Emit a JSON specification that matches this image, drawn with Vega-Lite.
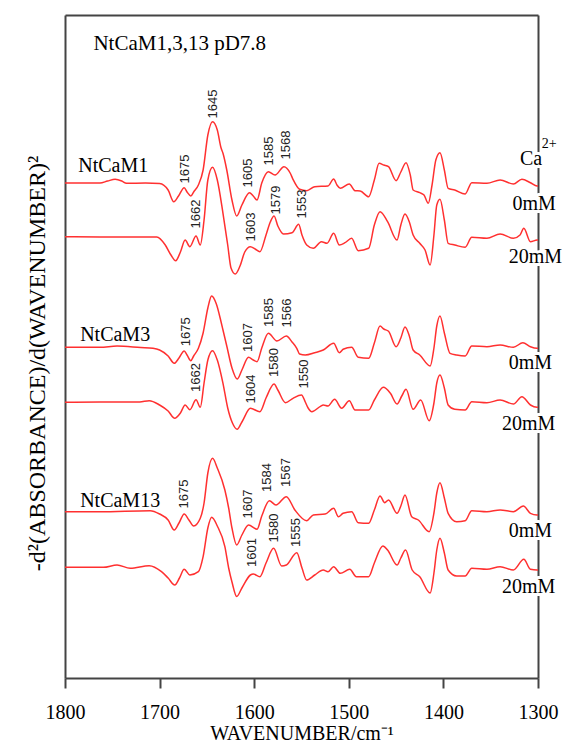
{
  "$schema": "https://vega.github.io/schema/vega-lite/v6.json",
  "width": 473,
  "height": 663,
  "autosize": {"type": "none"},
  "padding": {"left": 65, "top": 15, "right": 25, "bottom": 68},
  "background": "white",
  "config": {
    "view": {"stroke": null},
    "axis": {"grid": false, "domainColor": "#444", "domainWidth": 2, "tickColor": "#444"}
  },
  "resolve": {"axis": {"x": "independent", "y": "independent"}},
  "datasets": {
    "spectra": [
      {"s":"M1-0","wn":1800,"v":495},{"s":"M1-0","wn":1763,"v":495},{"s":"M1-0","wn":1755,"v":497},{"s":"M1-0","wn":1747,"v":498.7},{"s":"M1-0","wn":1740,"v":497},{"s":"M1-0","wn":1735,"v":494.7},{"s":"M1-0","wn":1715,"v":495},{"s":"M1-0","wn":1700,"v":494.5},{"s":"M1-0","wn":1691,"v":488},{"s":"M1-0","wn":1685,"v":476.3},{"s":"M1-0","wn":1680,"v":482},{"s":"M1-0","wn":1674,"v":490.3},{"s":"M1-0","wn":1671,"v":486},{"s":"M1-0","wn":1667,"v":482},{"s":"M1-0","wn":1664,"v":486},{"s":"M1-0","wn":1659,"v":493},{"s":"M1-0","wn":1654,"v":508},{"s":"M1-0","wn":1649,"v":543},{"s":"M1-0","wn":1644,"v":556.3},{"s":"M1-0","wn":1639,"v":548},{"s":"M1-0","wn":1635,"v":530},{"s":"M1-0","wn":1633,"v":524.7},{"s":"M1-0","wn":1629,"v":508},{"s":"M1-0","wn":1623.5,"v":478},{"s":"M1-0","wn":1618.5,"v":462},{"s":"M1-0","wn":1613,"v":473},{"s":"M1-0","wn":1605,"v":485.3},{"s":"M1-0","wn":1601,"v":482},{"s":"M1-0","wn":1597,"v":478},{"s":"M1-0","wn":1592,"v":495},{"s":"M1-0","wn":1585,"v":506.3},{"s":"M1-0","wn":1578,"v":503},{"s":"M1-0","wn":1568.5,"v":511.3},{"s":"M1-0","wn":1562,"v":505},{"s":"M1-0","wn":1559,"v":498.7},{"s":"M1-0","wn":1552,"v":488.7},{"s":"M1-0","wn":1544.5,"v":487.3},{"s":"M1-0","wn":1536,"v":491.3},{"s":"M1-0","wn":1522,"v":492},{"s":"M1-0","wn":1516,"v":499},{"s":"M1-0","wn":1512.5,"v":493},{"s":"M1-0","wn":1509,"v":489.7},{"s":"M1-0","wn":1499.5,"v":494},{"s":"M1-0","wn":1493.4,"v":487.3},{"s":"M1-0","wn":1488,"v":487},{"s":"M1-0","wn":1479,"v":481.3},{"s":"M1-0","wn":1473,"v":498},{"s":"M1-0","wn":1468,"v":514.7},{"s":"M1-0","wn":1463,"v":513},{"s":"M1-0","wn":1458,"v":511.3},{"s":"M1-0","wn":1450,"v":497.3},{"s":"M1-0","wn":1445,"v":506},{"s":"M1-0","wn":1439.5,"v":515.3},{"s":"M1-0","wn":1435,"v":503},{"s":"M1-0","wn":1432,"v":488},{"s":"M1-0","wn":1425,"v":485.3},{"s":"M1-0","wn":1420.5,"v":483},{"s":"M1-0","wn":1416,"v":474.7},{"s":"M1-0","wn":1412,"v":493},{"s":"M1-0","wn":1408,"v":518},{"s":"M1-0","wn":1403.6,"v":525.3},{"s":"M1-0","wn":1399,"v":508},{"s":"M1-0","wn":1395,"v":489.7},{"s":"M1-0","wn":1388,"v":488},{"s":"M1-0","wn":1377,"v":484},{"s":"M1-0","wn":1370,"v":495.3},{"s":"M1-0","wn":1354,"v":494.7},{"s":"M1-0","wn":1340,"v":498},{"s":"M1-0","wn":1326,"v":494},{"s":"M1-0","wn":1317,"v":498.7},{"s":"M1-0","wn":1308,"v":495.3},{"s":"M1-0","wn":1301,"v":492},{"s":"M1-0","wn":1300,"v":492},

      {"s":"M1-20","wn":1800,"v":441.3},{"s":"M1-20","wn":1763,"v":441},{"s":"M1-20","wn":1731,"v":441},{"s":"M1-20","wn":1703,"v":441},{"s":"M1-20","wn":1694,"v":433},{"s":"M1-20","wn":1688,"v":423},{"s":"M1-20","wn":1683,"v":417.3},{"s":"M1-20","wn":1678,"v":426},{"s":"M1-20","wn":1673,"v":438},{"s":"M1-20","wn":1668,"v":431.3},{"s":"M1-20","wn":1661.5,"v":442},{"s":"M1-20","wn":1657,"v":433},{"s":"M1-20","wn":1653,"v":458},{"s":"M1-20","wn":1649,"v":498},{"s":"M1-20","wn":1644,"v":510.7},{"s":"M1-20","wn":1639,"v":498},{"s":"M1-20","wn":1633,"v":464.7},{"s":"M1-20","wn":1628,"v":433},{"s":"M1-20","wn":1624.5,"v":410},{"s":"M1-20","wn":1620,"v":404},{"s":"M1-20","wn":1615,"v":412},{"s":"M1-20","wn":1610,"v":426},{"s":"M1-20","wn":1604,"v":431.3},{"s":"M1-20","wn":1599,"v":429},{"s":"M1-20","wn":1594,"v":426.3},{"s":"M1-20","wn":1587.5,"v":443},{"s":"M1-20","wn":1583,"v":456},{"s":"M1-20","wn":1579,"v":462},{"s":"M1-20","wn":1575,"v":452},{"s":"M1-20","wn":1569,"v":444},{"s":"M1-20","wn":1560,"v":445.3},{"s":"M1-20","wn":1553,"v":453.7},{"s":"M1-20","wn":1549.5,"v":443},{"s":"M1-20","wn":1544.5,"v":433},{"s":"M1-20","wn":1537.5,"v":429.7},{"s":"M1-20","wn":1529,"v":436.3},{"s":"M1-20","wn":1523,"v":434.7},{"s":"M1-20","wn":1516,"v":444.7},{"s":"M1-20","wn":1510,"v":433},{"s":"M1-20","wn":1504,"v":435.3},{"s":"M1-20","wn":1497,"v":439.7},{"s":"M1-20","wn":1490,"v":427.3},{"s":"M1-20","wn":1479,"v":429.7},{"s":"M1-20","wn":1473,"v":453},{"s":"M1-20","wn":1467,"v":466.3},{"s":"M1-20","wn":1459,"v":456.3},{"s":"M1-20","wn":1449,"v":438},{"s":"M1-20","wn":1445,"v":453},{"s":"M1-20","wn":1440.6,"v":464},{"s":"M1-20","wn":1436,"v":456},{"s":"M1-20","wn":1432,"v":443},{"s":"M1-20","wn":1425,"v":434.7},{"s":"M1-20","wn":1419.4,"v":428},{"s":"M1-20","wn":1414,"v":413},{"s":"M1-20","wn":1410,"v":443},{"s":"M1-20","wn":1407,"v":473},{"s":"M1-20","wn":1403.6,"v":478.7},{"s":"M1-20","wn":1399,"v":458},{"s":"M1-20","wn":1395,"v":434.7},{"s":"M1-20","wn":1388,"v":433},{"s":"M1-20","wn":1377,"v":430.7},{"s":"M1-20","wn":1370,"v":440.7},{"s":"M1-20","wn":1354,"v":439.7},{"s":"M1-20","wn":1340,"v":444},{"s":"M1-20","wn":1326,"v":439.7},{"s":"M1-20","wn":1319,"v":443},{"s":"M1-20","wn":1315,"v":449.7},{"s":"M1-20","wn":1308,"v":436.3},{"s":"M1-20","wn":1301,"v":438},{"s":"M1-20","wn":1300,"v":438},

      {"s":"M3-0","wn":1800,"v":330.7},{"s":"M3-0","wn":1763,"v":330.7},{"s":"M3-0","wn":1745,"v":332},{"s":"M3-0","wn":1720,"v":330.5},{"s":"M3-0","wn":1707,"v":329.7},{"s":"M3-0","wn":1700,"v":328},{"s":"M3-0","wn":1691,"v":322},{"s":"M3-0","wn":1684.5,"v":314.7},{"s":"M3-0","wn":1679.5,"v":320},{"s":"M3-0","wn":1674,"v":327},{"s":"M3-0","wn":1671,"v":323},{"s":"M3-0","wn":1667,"v":317.3},{"s":"M3-0","wn":1664,"v":322},{"s":"M3-0","wn":1659,"v":329.7},{"s":"M3-0","wn":1654,"v":345},{"s":"M3-0","wn":1649,"v":370},{"s":"M3-0","wn":1645,"v":382},{"s":"M3-0","wn":1640,"v":374},{"s":"M3-0","wn":1635,"v":356},{"s":"M3-0","wn":1633,"v":348},{"s":"M3-0","wn":1629,"v":332},{"s":"M3-0","wn":1623.5,"v":310},{"s":"M3-0","wn":1618,"v":299},{"s":"M3-0","wn":1613,"v":308},{"s":"M3-0","wn":1606,"v":320.7},{"s":"M3-0","wn":1601,"v":318},{"s":"M3-0","wn":1597,"v":316.3},{"s":"M3-0","wn":1592,"v":330},{"s":"M3-0","wn":1585,"v":344.7},{"s":"M3-0","wn":1576,"v":337},{"s":"M3-0","wn":1566,"v":342},{"s":"M3-0","wn":1560,"v":336},{"s":"M3-0","wn":1555,"v":329.7},{"s":"M3-0","wn":1552,"v":324},{"s":"M3-0","wn":1546,"v":323},{"s":"M3-0","wn":1536,"v":325.3},{"s":"M3-0","wn":1527,"v":328},{"s":"M3-0","wn":1516,"v":334.7},{"s":"M3-0","wn":1510,"v":325.3},{"s":"M3-0","wn":1506,"v":328.7},{"s":"M3-0","wn":1497,"v":330.7},{"s":"M3-0","wn":1490,"v":320.7},{"s":"M3-0","wn":1479,"v":319.7},{"s":"M3-0","wn":1473,"v":335},{"s":"M3-0","wn":1467,"v":352},{"s":"M3-0","wn":1463,"v":349},{"s":"M3-0","wn":1458,"v":346.7},{"s":"M3-0","wn":1450,"v":331.3},{"s":"M3-0","wn":1445,"v":340},{"s":"M3-0","wn":1440.6,"v":351},{"s":"M3-0","wn":1436,"v":342},{"s":"M3-0","wn":1432,"v":328},{"s":"M3-0","wn":1425,"v":323},{"s":"M3-0","wn":1414,"v":312},{"s":"M3-0","wn":1410,"v":330},{"s":"M3-0","wn":1407,"v":352},{"s":"M3-0","wn":1403.6,"v":362},{"s":"M3-0","wn":1399,"v":345},{"s":"M3-0","wn":1393,"v":324.7},{"s":"M3-0","wn":1386,"v":323},{"s":"M3-0","wn":1377,"v":322},{"s":"M3-0","wn":1370,"v":332},{"s":"M3-0","wn":1354,"v":331.3},{"s":"M3-0","wn":1340,"v":333},{"s":"M3-0","wn":1326,"v":330.7},{"s":"M3-0","wn":1316,"v":335.3},{"s":"M3-0","wn":1308,"v":331.3},{"s":"M3-0","wn":1301,"v":329.7},{"s":"M3-0","wn":1300,"v":329.7},

      {"s":"M3-20","wn":1800,"v":275.7},{"s":"M3-20","wn":1763,"v":276},{"s":"M3-20","wn":1721,"v":276},{"s":"M3-20","wn":1711,"v":277.3},{"s":"M3-20","wn":1700,"v":273},{"s":"M3-20","wn":1691,"v":267},{"s":"M3-20","wn":1684,"v":259.7},{"s":"M3-20","wn":1678,"v":265},{"s":"M3-20","wn":1673,"v":273},{"s":"M3-20","wn":1668,"v":268.3},{"s":"M3-20","wn":1661.5,"v":278.3},{"s":"M3-20","wn":1657,"v":270.7},{"s":"M3-20","wn":1653,"v":295},{"s":"M3-20","wn":1649,"v":318},{"s":"M3-20","wn":1644,"v":327.3},{"s":"M3-20","wn":1639,"v":318},{"s":"M3-20","wn":1633,"v":294.7},{"s":"M3-20","wn":1628,"v":270},{"s":"M3-20","wn":1623,"v":255},{"s":"M3-20","wn":1618,"v":248.7},{"s":"M3-20","wn":1613,"v":256},{"s":"M3-20","wn":1604,"v":269.7},{"s":"M3-20","wn":1594,"v":266.3},{"s":"M3-20","wn":1587.5,"v":280},{"s":"M3-20","wn":1579,"v":294},{"s":"M3-20","wn":1575,"v":288},{"s":"M3-20","wn":1567,"v":275.3},{"s":"M3-20","wn":1559,"v":279.7},{"s":"M3-20","wn":1550,"v":283},{"s":"M3-20","wn":1546,"v":276},{"s":"M3-20","wn":1543,"v":270},{"s":"M3-20","wn":1539,"v":266.3},{"s":"M3-20","wn":1530,"v":271.7},{"s":"M3-20","wn":1527,"v":273},{"s":"M3-20","wn":1522,"v":272},{"s":"M3-20","wn":1515,"v":278.7},{"s":"M3-20","wn":1507.5,"v":269.7},{"s":"M3-20","wn":1499.5,"v":277.3},{"s":"M3-20","wn":1493.4,"v":268},{"s":"M3-20","wn":1479,"v":268},{"s":"M3-20","wn":1473,"v":278},{"s":"M3-20","wn":1463.5,"v":290.7},{"s":"M3-20","wn":1456,"v":284.7},{"s":"M3-20","wn":1449,"v":274},{"s":"M3-20","wn":1444,"v":282},{"s":"M3-20","wn":1439.5,"v":288.7},{"s":"M3-20","wn":1432,"v":268.7},{"s":"M3-20","wn":1424,"v":278},{"s":"M3-20","wn":1415,"v":257.3},{"s":"M3-20","wn":1410,"v":275},{"s":"M3-20","wn":1407,"v":295},{"s":"M3-20","wn":1403.6,"v":303},{"s":"M3-20","wn":1399,"v":290},{"s":"M3-20","wn":1395,"v":273},{"s":"M3-20","wn":1388,"v":268.7},{"s":"M3-20","wn":1377,"v":268},{"s":"M3-20","wn":1370,"v":276.3},{"s":"M3-20","wn":1354,"v":275.3},{"s":"M3-20","wn":1340,"v":278},{"s":"M3-20","wn":1326,"v":274},{"s":"M3-20","wn":1317,"v":281.3},{"s":"M3-20","wn":1308,"v":273},{"s":"M3-20","wn":1301,"v":270.7},{"s":"M3-20","wn":1300,"v":270.7},

      {"s":"M13-0","wn":1800,"v":166.3},{"s":"M13-0","wn":1763,"v":166.3},{"s":"M13-0","wn":1710,"v":167.3},{"s":"M13-0","wn":1700,"v":164},{"s":"M13-0","wn":1691,"v":158},{"s":"M13-0","wn":1684.5,"v":148},{"s":"M13-0","wn":1679.5,"v":155},{"s":"M13-0","wn":1674,"v":164},{"s":"M13-0","wn":1669,"v":158},{"s":"M13-0","wn":1664,"v":152},{"s":"M13-0","wn":1657,"v":159.7},{"s":"M13-0","wn":1653,"v":175},{"s":"M13-0","wn":1649,"v":205},{"s":"M13-0","wn":1644,"v":219.7},{"s":"M13-0","wn":1639,"v":210},{"s":"M13-0","wn":1631,"v":188},{"s":"M13-0","wn":1627,"v":170},{"s":"M13-0","wn":1623.5,"v":150},{"s":"M13-0","wn":1618.5,"v":133},{"s":"M13-0","wn":1613,"v":143},{"s":"M13-0","wn":1606,"v":153},{"s":"M13-0","wn":1597,"v":148.7},{"s":"M13-0","wn":1592,"v":162},{"s":"M13-0","wn":1584,"v":177.3},{"s":"M13-0","wn":1577,"v":173},{"s":"M13-0","wn":1566,"v":181.3},{"s":"M13-0","wn":1557,"v":168},{"s":"M13-0","wn":1544.5,"v":157.3},{"s":"M13-0","wn":1537.5,"v":163},{"s":"M13-0","wn":1525,"v":164},{"s":"M13-0","wn":1516,"v":169.7},{"s":"M13-0","wn":1511,"v":161.3},{"s":"M13-0","wn":1506,"v":164.7},{"s":"M13-0","wn":1497,"v":166.3},{"s":"M13-0","wn":1490,"v":155.3},{"s":"M13-0","wn":1479,"v":154.7},{"s":"M13-0","wn":1473,"v":168},{"s":"M13-0","wn":1467,"v":182},{"s":"M13-0","wn":1462,"v":175.3},{"s":"M13-0","wn":1458,"v":178},{"s":"M13-0","wn":1449,"v":164.7},{"s":"M13-0","wn":1445,"v":172},{"s":"M13-0","wn":1440.6,"v":183},{"s":"M13-0","wn":1433.5,"v":161.3},{"s":"M13-0","wn":1426.5,"v":158},{"s":"M13-0","wn":1415,"v":146.3},{"s":"M13-0","wn":1410,"v":165},{"s":"M13-0","wn":1407,"v":185},{"s":"M13-0","wn":1403.6,"v":195.3},{"s":"M13-0","wn":1399,"v":180},{"s":"M13-0","wn":1395,"v":164.7},{"s":"M13-0","wn":1386,"v":156.3},{"s":"M13-0","wn":1377,"v":157.3},{"s":"M13-0","wn":1370,"v":167.3},{"s":"M13-0","wn":1354,"v":166.3},{"s":"M13-0","wn":1340,"v":168},{"s":"M13-0","wn":1326,"v":166.3},{"s":"M13-0","wn":1315.5,"v":172},{"s":"M13-0","wn":1308,"v":164.7},{"s":"M13-0","wn":1301,"v":163},{"s":"M13-0","wn":1300,"v":163},

      {"s":"M13-20","wn":1800,"v":110.7},{"s":"M13-20","wn":1759.5,"v":110.7},{"s":"M13-20","wn":1745,"v":113},{"s":"M13-20","wn":1731,"v":109.7},{"s":"M13-20","wn":1711,"v":112.3},{"s":"M13-20","wn":1698,"v":106.3},{"s":"M13-20","wn":1691,"v":100},{"s":"M13-20","wn":1684,"v":93},{"s":"M13-20","wn":1679,"v":100},{"s":"M13-20","wn":1674,"v":108.7},{"s":"M13-20","wn":1668,"v":103},{"s":"M13-20","wn":1659,"v":106.3},{"s":"M13-20","wn":1654,"v":121.3},{"s":"M13-20","wn":1649,"v":150},{"s":"M13-20","wn":1645,"v":160.7},{"s":"M13-20","wn":1639,"v":152},{"s":"M13-20","wn":1631,"v":131.3},{"s":"M13-20","wn":1627,"v":110},{"s":"M13-20","wn":1623.5,"v":96},{"s":"M13-20","wn":1618.5,"v":81.5},{"s":"M13-20","wn":1613,"v":90},{"s":"M13-20","wn":1604,"v":103},{"s":"M13-20","wn":1601,"v":104},{"s":"M13-20","wn":1594,"v":101.3},{"s":"M13-20","wn":1587.5,"v":115},{"s":"M13-20","wn":1579.5,"v":129.7},{"s":"M13-20","wn":1571,"v":112},{"s":"M13-20","wn":1566,"v":113},{"s":"M13-20","wn":1555,"v":125.3},{"s":"M13-20","wn":1549.5,"v":110},{"s":"M13-20","wn":1544.5,"v":98},{"s":"M13-20","wn":1536,"v":103},{"s":"M13-20","wn":1527,"v":108},{"s":"M13-20","wn":1522,"v":106.3},{"s":"M13-20","wn":1516,"v":111.3},{"s":"M13-20","wn":1509,"v":104.7},{"s":"M13-20","wn":1499,"v":108.7},{"s":"M13-20","wn":1492,"v":101.3},{"s":"M13-20","wn":1479,"v":101.3},{"s":"M13-20","wn":1473,"v":115},{"s":"M13-20","wn":1464,"v":132},{"s":"M13-20","wn":1459,"v":128},{"s":"M13-20","wn":1449,"v":113},{"s":"M13-20","wn":1445,"v":120},{"s":"M13-20","wn":1440,"v":128},{"s":"M13-20","wn":1433,"v":108},{"s":"M13-20","wn":1425,"v":101.3},{"s":"M13-20","wn":1414,"v":85},{"s":"M13-20","wn":1410,"v":105},{"s":"M13-20","wn":1407,"v":128},{"s":"M13-20","wn":1403.6,"v":139.7},{"s":"M13-20","wn":1399,"v":125},{"s":"M13-20","wn":1395,"v":108},{"s":"M13-20","wn":1386,"v":102},{"s":"M13-20","wn":1377,"v":102},{"s":"M13-20","wn":1370,"v":109.7},{"s":"M13-20","wn":1354,"v":108.7},{"s":"M13-20","wn":1340,"v":111.3},{"s":"M13-20","wn":1326,"v":108},{"s":"M13-20","wn":1315,"v":118.7},{"s":"M13-20","wn":1308,"v":108.7},{"s":"M13-20","wn":1301,"v":108},{"s":"M13-20","wn":1300,"v":108}
    ],
    "peaks": [
      {"t":"1675","wn":1673,"v":509},{"t":"1645","wn":1644,"v":574},{"t":"1605","wn":1607,"v":505},{"t":"1585","wn":1584,"v":527},{"t":"1568","wn":1566,"v":533},
      {"t":"1662","wn":1661.5,"v":464},{"t":"1603","wn":1603,"v":451},{"t":"1579","wn":1577,"v":478},{"t":"1553","wn":1549,"v":474},
      {"t":"1675","wn":1672,"v":346.3},{"t":"1607","wn":1607,"v":340.5},{"t":"1585","wn":1584,"v":365.5},{"t":"1566","wn":1565,"v":365},
      {"t":"1662","wn":1661.5,"v":300.5},{"t":"1604","wn":1603,"v":289},{"t":"1580","wn":1579,"v":315.5},{"t":"1550","wn":1547,"v":304},
      {"t":"1675","wn":1674,"v":184},{"t":"1607","wn":1607,"v":174},{"t":"1584","wn":1586,"v":200.5},{"t":"1567","wn":1566,"v":205.5},
      {"t":"1601","wn":1602,"v":125.5},{"t":"1580","wn":1579,"v":150},{"t":"1555","wn":1556,"v":145.5}
    ],
    "labels": [
      {"t":"NtCaM1","wn":1786,"v":506},
      {"t":"NtCaM3","wn":1784,"v":337},
      {"t":"NtCaM13","wn":1784,"v":171},
      {"t":"Ca","wn":1319,"v":513},
      {"t":"0mM","wn":1327,"v":468},
      {"t":"20mM","wn":1331,"v":415},
      {"t":"0mM","wn":1331,"v":309},
      {"t":"20mM","wn":1338,"v":248},
      {"t":"0mM","wn":1331,"v":141},
      {"t":"20mM","wn":1338,"v":85}
    ],
    "title": [
      {"t":"NtCaM1,3,13 pD7.8","wn":1770,"v":628}
    ],
    "sup": [
      {"t":"2+","wn":1296,"v":530}
    ]
  },
  "layer": [
    {
      "data": {"name": "labels"},
      "mark": {"type": "text", "font": "Liberation Serif", "fontSize": 20, "align": "left", "baseline": "alphabetic", "fill": "white", "stroke": "white", "strokeWidth": 6, "strokeJoin": "round"},
      "encoding": {
        "x": {"field": "wn", "type": "quantitative", "scale": {"domain": [1300, 1800], "reverse": true, "nice": false, "zero": false},
              "axis": {"orient": "top", "labels": false, "ticks": false, "title": null}},
        "y": {"field": "v", "type": "quantitative", "scale": {"domain": [0, 663], "nice": false, "zero": false},
              "axis": {"orient": "right", "labels": false, "ticks": false, "title": null}},
        "text": {"field": "t"}
      }
    },
    {
      "data": {"name": "spectra"},
      "mark": {"type": "line", "color": "#ff3030", "strokeWidth": 1.5, "interpolate": "monotone"},
      "encoding": {
        "x": {"field": "wn", "type": "quantitative", "scale": {"domain": [1300, 1800], "reverse": true, "nice": false, "zero": false},
              "axis": {"orient": "bottom", "values": [1800, 1700, 1600, 1500, 1400, 1300], "format": "d", "tickSize": 10, "tickWidth": 2,
                       "labelFont": "Liberation Serif", "labelFontSize": 20, "labelColor": "black", "labelPadding": 14, "labelFlush": false, "labelOverlap": false,
                       "title": "WAVENUMBER/cm⁻¹", "titleFont": "Liberation Serif", "titleFontSize": 20, "titleFontWeight": "normal", "titleColor": "black", "titlePadding": 1}},
        "y": {"field": "v", "type": "quantitative", "scale": {"domain": [0, 663], "nice": false, "zero": false},
              "axis": {"orient": "left", "labels": false, "ticks": false,
                       "title": "-d²(ABSORBANCE)/d(WAVENUMBER)²", "titleFont": "Liberation Serif", "titleFontSize": 24, "titleFontWeight": "normal", "titleColor": "black", "titlePadding": 16, "titleY": 348}},
        "detail": {"field": "s"}
      }
    },
    {
      "data": {"name": "peaks"},
      "mark": {"type": "text", "font": "Liberation Sans Narrow, Arial Narrow, Liberation Sans, sans-serif", "fontSize": 13, "angle": 270, "align": "center", "baseline": "middle", "fill": "#222"},
      "encoding": {
        "x": {"field": "wn", "type": "quantitative", "scale": {"domain": [1300, 1800], "reverse": true, "nice": false, "zero": false}, "axis": null},
        "y": {"field": "v", "type": "quantitative", "scale": {"domain": [0, 663], "nice": false, "zero": false}, "axis": null},
        "text": {"field": "t"}
      }
    },
    {
      "data": {"name": "labels"},
      "mark": {"type": "text", "font": "Liberation Serif", "fontSize": 20, "align": "left", "baseline": "alphabetic", "fill": "black"},
      "encoding": {
        "x": {"field": "wn", "type": "quantitative", "scale": {"domain": [1300, 1800], "reverse": true, "nice": false, "zero": false}, "axis": null},
        "y": {"field": "v", "type": "quantitative", "scale": {"domain": [0, 663], "nice": false, "zero": false}, "axis": null},
        "text": {"field": "t"}
      }
    },
    {
      "data": {"name": "title"},
      "mark": {"type": "text", "font": "Liberation Serif", "fontSize": 21, "align": "left", "baseline": "alphabetic", "fill": "black"},
      "encoding": {
        "x": {"field": "wn", "type": "quantitative", "scale": {"domain": [1300, 1800], "reverse": true, "nice": false, "zero": false}, "axis": null},
        "y": {"field": "v", "type": "quantitative", "scale": {"domain": [0, 663], "nice": false, "zero": false}, "axis": null},
        "text": {"field": "t"}
      }
    },
    {
      "data": {"name": "sup"},
      "mark": {"type": "text", "font": "Liberation Serif", "fontSize": 14, "align": "left", "baseline": "alphabetic", "fill": "black"},
      "encoding": {
        "x": {"field": "wn", "type": "quantitative", "scale": {"domain": [1300, 1800], "reverse": true, "nice": false, "zero": false}, "axis": null},
        "y": {"field": "v", "type": "quantitative", "scale": {"domain": [0, 663], "nice": false, "zero": false}, "axis": null},
        "text": {"field": "t"}
      }
    }
  ]
}
